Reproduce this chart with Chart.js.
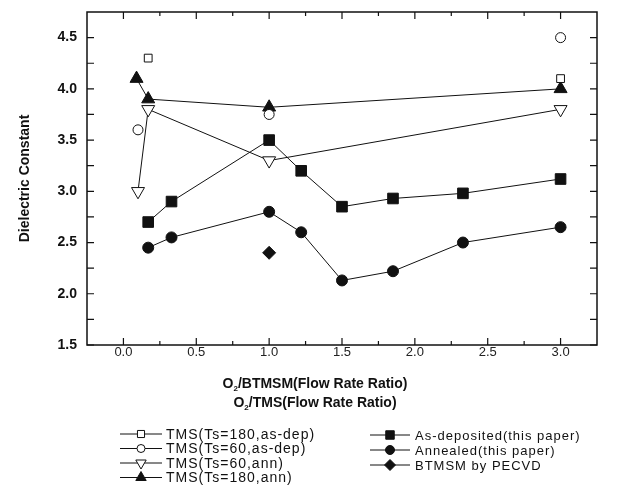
<!DOCTYPE html>
<html>
<head>
<meta charset="utf-8">
<title>Dielectric Constant</title>
<script src="https://cdn.jsdelivr.net/npm/chart.js@4/dist/chart.umd.min.js"></script>
<style>
  body { margin: 0; background: #fff; }
  #grafico { display: block; }
</style>
</head>
<body>
<canvas id="grafico" width="619" height="490"></canvas>
<script>
// Datos
const xTicks = [0.0, 0.5, 1.0, 1.5, 2.0, 2.5, 3.0];
const yTicks = [1.5, 2.0, 2.5, 3.0, 3.5, 4.0, 4.5];

const tms180AsDepX = [0.17, 3.0];
const tms180AsDepY = [4.30, 4.10];

const tms60AsDepX = [0.1, 1.0, 3.0];
const tms60AsDepY = [3.60, 3.75, 4.50];

const tms60AnnX = [0.1, 0.17, 1.0, 3.0];
const tms60AnnY = [3.00, 3.80, 3.30, 3.80];

const tms180AnnX = [0.09, 0.17, 1.0, 3.0];
const tms180AnnY = [4.10, 3.90, 3.82, 4.00];

const paperX = [0.17, 0.33, 1.0, 1.22, 1.5, 1.85, 2.33, 3.0];
const asDepositedY = [2.70, 2.90, 3.50, 3.20, 2.85, 2.93, 2.98, 3.12];
const annealedY = [2.45, 2.55, 2.80, 2.60, 2.13, 2.22, 2.50, 2.65];

const btmsmX = [1.0];
const btmsmY = [2.40];

function puntos(xs, ys) {
  return xs.map((x, i) => ({ x: x, y: ys[i] }));
}

Chart.defaults.font.family = '"Liberation Sans", Arial, sans-serif';
Chart.defaults.color = '#111';

const negro = '#111';

// Dibuja el simbolo de una serie (para la leyenda)
function simbolo(ctx, ds, x, y) {
  ctx.fillStyle = ds.pointBackgroundColor;
  ctx.strokeStyle = ds.pointBorderColor;
  ctx.lineWidth = ds.pointBorderWidth;
  Chart.helpers.drawPoint(ctx, {
    pointStyle: ds.pointStyle,
    rotation: ds.pointRotation || 0,
    radius: ds.legendRadius,
    borderWidth: ds.pointBorderWidth
  }, x, y);
}

// Marco, ticks hacia dentro, titulos y leyenda
const marco = {
  id: 'marco',
  afterDraw(chart) {
    const ctx = chart.ctx;
    const a = chart.chartArea;
    const sx = chart.scales.x;
    const sy = chart.scales.y;
    ctx.save();
    ctx.strokeStyle = negro;
    ctx.lineWidth = 1.5;
    ctx.strokeRect(a.left, a.top, a.right - a.left, a.bottom - a.top);

    ctx.lineWidth = 1.2;
    ctx.beginPath();
    xTicks.forEach((v, i) => {
      const px = sx.getPixelForValue(v);
      ctx.moveTo(px, a.bottom); ctx.lineTo(px, a.bottom - 7);
      ctx.moveTo(px, a.top); ctx.lineTo(px, a.top + 7);
      const m = sx.getPixelForValue(v + 0.25);
      if (m < a.right - 2) {
        ctx.moveTo(m, a.bottom); ctx.lineTo(m, a.bottom - 4);
        ctx.moveTo(m, a.top); ctx.lineTo(m, a.top + 4);
      }
    });
    const mx = sx.getPixelForValue(xTicks[0] - 0.25);
    if (mx > a.left + 2) {
      ctx.moveTo(mx, a.bottom); ctx.lineTo(mx, a.bottom - 4);
      ctx.moveTo(mx, a.top); ctx.lineTo(mx, a.top + 4);
    }
    yTicks.forEach((v) => {
      [v, v + 0.25].forEach((w) => {
        const py = sy.getPixelForValue(w);
        if (py < a.top + 2) return;
        ctx.moveTo(a.left, py); ctx.lineTo(a.left + 7, py);
        ctx.moveTo(a.right, py); ctx.lineTo(a.right - 7, py);
      });
    });
    ctx.stroke();

    // titulo eje Y
    ctx.fillStyle = negro;
    ctx.font = 'bold 14px "Liberation Sans", Arial, sans-serif';
    ctx.textAlign = 'center';
    ctx.textBaseline = 'middle';
    ctx.save();
    ctx.translate(25, (a.top + a.bottom) / 2);
    ctx.rotate(-Math.PI / 2);
    ctx.fillText('Dielectric Constant', 0, 0);
    ctx.restore();

    // titulo eje X (dos lineas con subindice)
    const lineas = ['/BTMSM(Flow Rate Ratio)', '/TMS(Flow Rate Ratio)'];
    const ys = [384, 403];
    lineas.forEach((txt, i) => {
      ctx.font = 'bold 14px "Liberation Sans", Arial, sans-serif';
      const wO = ctx.measureText('O').width;
      const wT = ctx.measureText(txt).width;
      ctx.font = 'bold 8px "Liberation Sans", Arial, sans-serif';
      const w2 = ctx.measureText('2').width;
      let x0 = 315 - (wO + w2 + wT) / 2;
      ctx.textAlign = 'left';
      ctx.font = 'bold 14px "Liberation Sans", Arial, sans-serif';
      ctx.fillText('O', x0, ys[i]);
      ctx.font = 'bold 8px "Liberation Sans", Arial, sans-serif';
      ctx.fillText('2', x0 + wO, ys[i] + 5);
      ctx.font = 'bold 14px "Liberation Sans", Arial, sans-serif';
      ctx.fillText(txt, x0 + wO + w2, ys[i]);
    });

    // leyenda
    ctx.textAlign = 'left';
    const cols = [
      { x0: 120, x1: 162, xt: 166, y: 434, dy: 14.5, font: '14px', esp: '1px' },
      { x0: 370, x1: 410, xt: 415, y: 435, dy: 15, font: '13px', esp: '1px' }
    ];
    chart.data.datasets.forEach((ds, i) => {
      const c = cols[ds.columna];
      const fila = ds.columna === 0 ? i : i - 4;
      const y = c.y + fila * c.dy;
      ctx.strokeStyle = negro;
      ctx.lineWidth = 1;
      ctx.beginPath();
      ctx.moveTo(c.x0, y); ctx.lineTo(c.x1, y);
      ctx.stroke();
      simbolo(ctx, ds, (c.x0 + c.x1) / 2, y);
      ctx.fillStyle = negro;
      ctx.font = c.font + ' "Liberation Sans", Arial, sans-serif';
      ctx.letterSpacing = c.esp;
      ctx.fillText(ds.label, c.xt, y + 1);
      ctx.letterSpacing = '0px';
    });
    ctx.restore();
  }
};

function serie(label, xs, ys, estilo) {
  return Object.assign({
    label: label,
    data: puntos(xs, ys),
    borderColor: negro,
    borderWidth: 1,
    pointBorderColor: negro,
    pointBorderWidth: 1,
    pointBackgroundColor: negro,
    pointHoverRadius: 6,
    showLine: true,
    fill: false
  }, estilo);
}

new Chart(document.getElementById('grafico').getContext('2d'), {
  type: 'scatter',
  data: {
    datasets: [
      serie('TMS(Ts=180,as-dep)', tms180AsDepX, tms180AsDepY,
        { pointStyle: 'rect', pointRadius: 5.5, legendRadius: 5, pointBackgroundColor: '#fff', showLine: false, columna: 0 }),
      serie('TMS(Ts=60,as-dep)', tms60AsDepX, tms60AsDepY,
        { pointStyle: 'circle', pointRadius: 5, legendRadius: 4, pointBackgroundColor: '#fff', showLine: false, columna: 0 }),
      serie('TMS(Ts=60,ann)', tms60AnnX, tms60AnnY,
        { pointStyle: 'triangle', pointRotation: 180, pointRadius: 7.5, legendRadius: 6, pointBackgroundColor: '#fff', columna: 0 }),
      serie('TMS(Ts=180,ann)', tms180AnnX, tms180AnnY,
        { pointStyle: 'triangle', pointRadius: 7.5, legendRadius: 6, columna: 0 }),
      serie('As-deposited(this paper)', paperX, asDepositedY,
        { pointStyle: 'rect', pointRadius: 7.5, legendRadius: 6, columna: 1 }),
      serie('Annealed(this paper)', paperX, annealedY,
        { pointStyle: 'circle', pointRadius: 5.5, legendRadius: 4.5, columna: 1 }),
      serie('BTMSM by PECVD', btmsmX, btmsmY,
        { pointStyle: 'rectRot', pointRadius: 6.5, legendRadius: 5.5, columna: 1 })
    ]
  },
  options: {
    responsive: false,
    animation: false,
    devicePixelRatio: 1,
    layout: { padding: { top: 12, right: 22, left: 0, bottom: 0 } },
    plugins: {
      legend: { display: false },
      tooltip: { enabled: false }
    },
    scales: {
      x: {
        type: 'linear',
        min: -0.25,
        max: 3.25,
        grid: { display: false, drawTicks: false },
        border: { display: false },
        afterBuildTicks: (s) => { s.ticks = xTicks.map((v) => ({ value: v })); },
        afterFit: (s) => { s.height = 145; s.paddingLeft = 0; s.paddingRight = 0; },
        ticks: {
          padding: 0,
          color: '#222',
          font: { size: 13 },
          callback: (v) => Number(v).toFixed(1)
        }
      },
      y: {
        min: 1.5,
        max: 4.75,
        grid: { display: false, drawTicks: false },
        border: { display: false },
        afterBuildTicks: (s) => { s.ticks = yTicks.map((v) => ({ value: v })); },
        afterFit: (s) => { s.width = 87; s.paddingTop = 0; s.paddingBottom = 0; },
        ticks: {
          padding: 10,
          color: '#111',
          font: { size: 14, weight: 'bold' },
          callback: (v) => Number(v).toFixed(1)
        }
      }
    }
  },
  plugins: [marco]
});
</script>
</body>
</html>
